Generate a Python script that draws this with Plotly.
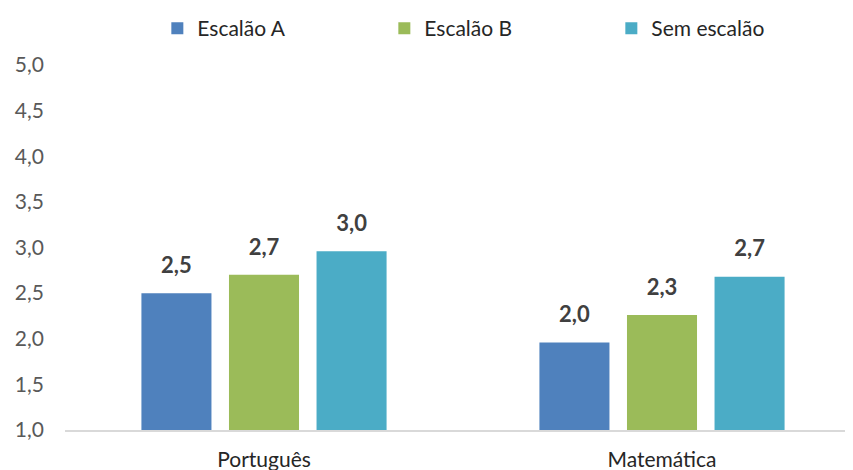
import plotly.graph_objects as go

categories = ["Português", "Matemática"]
series_names = ["Escalão A", "Escalão B", "Sem escalão"]
escalao_a = [2.50, 1.96]
escalao_b = [2.70, 2.26]
sem_escalao = [2.96, 2.68]
y_ticks = [1.0, 1.5, 2.0, 2.5, 3.0, 3.5, 4.0, 4.5, 5.0]

colors = ["#4f81bd", "#9bbb59", "#4bacc6"]
FONT = "Lato, Open Sans, sans-serif"

fig = go.Figure()
for name, vals, col in zip(series_names, [escalao_a, escalao_b, sem_escalao], colors):
    fig.add_trace(
        go.Bar(
            x=categories,
            y=vals,
            name=name,
            marker={"color": col, "line": {"width": 0}},
        )
    )

# value labels: invisible markers lift the text a bit above the bar tops
for name, vals in zip(series_names, [escalao_a, escalao_b, sem_escalao]):
    fig.add_trace(
        go.Scatter(
            x=categories,
            y=vals,
            mode="markers+text",
            marker={"size": 22, "opacity": 0},
            texttemplate="%{y:.1f}",
            textposition="top center",
            textfont={"family": FONT, "size": 22, "color": "#404040", "weight": "bold"},
            showlegend=False,
            hoverinfo="skip",
            cliponaxis=False,
        )
    )

# the page body adds an 8px offset, margins compensate for it
fig.update_layout(
    width=853,
    height=470,
    font={"family": FONT, "size": 21, "color": "#595959"},
    separators=", ",
    barmode="group",
    bargap=0.34,
    bargroupgap=0.2,
    scattermode="group",
    scattergap=0.34,
    margin={"l": 57, "r": 0, "t": 57, "b": 48, "autoexpand": False},
    paper_bgcolor="white",
    plot_bgcolor="white",
    showlegend=True,
    legend={
        "orientation": "h",
        "x": 0.116,
        "xanchor": "left",
        "y": 1.0,
        "yanchor": "top",
        "yref": "container",
        "entrywidth": 182,
        "itemwidth": 30,
        "font": {"size": 21, "color": "#262626"},
    },
    xaxis={
        "showline": True,
        "linecolor": "#d9d9d9",
        "linewidth": 1.5,
        "ticks": "",
        "ticklabelstandoff": 10,
        "tickfont": {"size": 21, "color": "#262626"},
    },
    yaxis={
        "range": [1, 5],
        "tickvals": y_ticks,
        "tickformat": ".1f",
        "showgrid": False,
        "zeroline": False,
        "ticks": "",
        "ticklabelstandoff": 20,
        "tickfont": {"size": 21, "color": "#595959"},
    },
)

fig.write_html("out.html")
